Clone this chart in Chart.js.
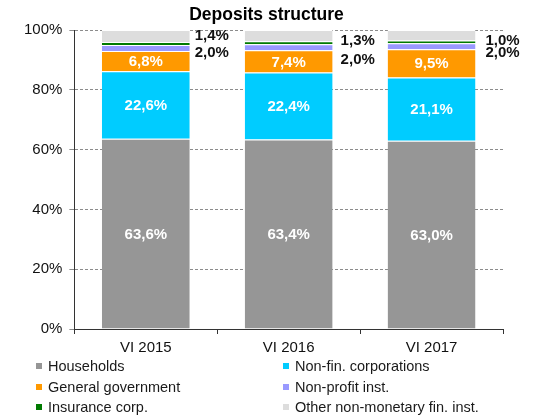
<!DOCTYPE html>
<html>
<head>
<meta charset="utf-8">
<script src="https://cdn.jsdelivr.net/npm/chart.js@4.4.0/dist/chart.umd.min.js"></script>
<style>
  body { margin: 0; background: #fff; font-family: "Liberation Sans", Arial, sans-serif; }
  #wrap { position: relative; width: 535px; height: 419px; }
  #titulo { position: absolute; left: 0; top: 3px; width: 533px; text-align: center; font-weight: bold; font-size: 17.5px; color: #000; line-height: 22px; }
  #box { position: absolute; left: 0; top: 0; width: 535px; height: 364px; }
  #legend { position: absolute; left: 0; top: 356px; width: 535px; }
  .item { position: absolute; font-size: 14.5px; color: #1a1a1a; white-space: nowrap; line-height: 20px; }
  .item span { display: inline-block; width: 6px; height: 6px; margin-right: 6px; vertical-align: 2px; }
</style>
</head>
<body>
<div id="wrap">
  <div id="box"><canvas id="grafico"></canvas></div>
  <div id="titulo">Deposits structure</div>
  <div id="legend"></div>
</div>
<script>
// dados (% do total)
const periodos = ["VI 2015", "VI 2016", "VI 2017"];
const households = [63.6, 63.4, 63.0];
const nonFinCorp = [22.6, 22.4, 21.1];
const generalGov = [6.8, 7.4, 9.5];
const nonProfit = [2.0, 2.0, 2.0];
const insurance = [1.0, 1.0, 0.9];
const otherFin = [4.0, 3.8, 3.5];
// rótulos que aparecem ao lado das barras
const rotuloTopo = ["1,4%", "1,3%", "1,0%"];
const yTicks = [0, 20, 40, 60, 80, 100];

const formata = v => v.toFixed(1).replace('.', ',') + '%';

// escreve os rótulos dentro e ao lado das barras
const rotulos = {
  id: 'rotulos',
  afterDatasetsDraw(chart) {
    const ctx = chart.ctx;
    ctx.save();
    ctx.textBaseline = 'middle';
    ctx.font = 'bold 15px "Liberation Sans", Arial, sans-serif';
    // dentro das barras: 3 primeiras séries
    for (let d = 0; d < 3; d++) {
      let meta = chart.getDatasetMeta(d);
      meta.data.forEach((bar, i) => {
        ctx.fillStyle = '#fff';
        ctx.textAlign = 'center';
        ctx.fillText(formata(chart.data.datasets[d].data[i]), bar.x, (bar.y + bar.base) / 2 + 1);
      });
    }
    // ao lado das barras (ajustes finos de posição)
    const dx = [5, 8, 10];
    const dy1 = [6, 10.5, 11];
    const dy2 = [22.5, 29.5, 23];
    let metaOther = chart.getDatasetMeta(5);
    metaOther.data.forEach((bar, i) => {
      let x = bar.x + bar.width / 2 + dx[i];
      ctx.fillStyle = '#111';
      ctx.textAlign = 'left';
      ctx.fillText(rotuloTopo[i], x, bar.y + dy1[i]);
      ctx.fillText(formata(nonProfit[i]), x, bar.y + dy2[i]);
    });
    ctx.restore();
  }
};

const series = [
  { label: "Households", data: households, backgroundColor: "#969696" },
  { label: "Non-fin. corporations", data: nonFinCorp, backgroundColor: "#00CCFF" },
  { label: "General government", data: generalGov, backgroundColor: "#FF9900" },
  { label: "Non-profit inst.", data: nonProfit, backgroundColor: "#9999FF" },
  { label: "Insurance corp.", data: insurance, backgroundColor: "#007A00" },
  { label: "Other non-monetary fin. inst.", data: otherFin, backgroundColor: "#DDDDDD" }
];

let grafico = new Chart(document.getElementById("grafico"), {
  type: 'bar',
  data: {
    labels: periodos,
    datasets: series.map(s => ({
      label: s.label,
      data: s.data,
      backgroundColor: s.backgroundColor,
      borderColor: '#fff',
      borderWidth: { top: 1, bottom: 0, left: 0, right: 0 },
      borderSkipped: 'start',
      categoryPercentage: 1,
      barPercentage: 0.615
    }))
  },
  options: {
    responsive: true,
    maintainAspectRatio: false,
    animation: false,
    layout: { padding: { left: 17, right: 32, top: 30, bottom: 2 } },
    plugins: {
      legend: { display: false },
      tooltip: { enabled: false },
      title: { display: false }
    },
    scales: {
      x: {
        stacked: true,
        grid: { display: true, drawOnChartArea: false, drawTicks: true, tickLength: 5, color: '#333', offset: true },
        border: { display: true, color: '#333', width: 1 },
        ticks: { color: '#111', padding: 5, font: { family: '"Liberation Sans", Arial, sans-serif', size: 15 } }
      },
      y: {
        stacked: true,
        min: 0,
        max: 100,
        afterBuildTicks: axis => { axis.ticks = yTicks.map(v => ({ value: v })); },
        grid: { color: '#8c8c8c', tickLength: 5, tickColor: '#8c8c8c' },
        border: { display: true, color: '#333', width: 1, dash: [3, 2] },
        ticks: {
          color: '#111',
          padding: 7,
          font: { family: '"Liberation Sans", Arial, sans-serif', size: 15 },
          callback: v => v + '%'
        }
      }
    }
  },
  plugins: [rotulos]
});

// legenda em duas colunas
const legenda = document.getElementById('legend');
series.forEach((s, i) => {
  let div = document.createElement('div');
  div.className = 'item';
  div.style.left = (i % 2 == 0 ? 36 : 283) + 'px';
  div.style.top = (Math.floor(i / 2) * 20.5) + 'px';
  div.innerHTML = `<span style="background:${s.backgroundColor}"></span>${s.label}`;
  legenda.appendChild(div);
});
</script>
</body>
</html>
